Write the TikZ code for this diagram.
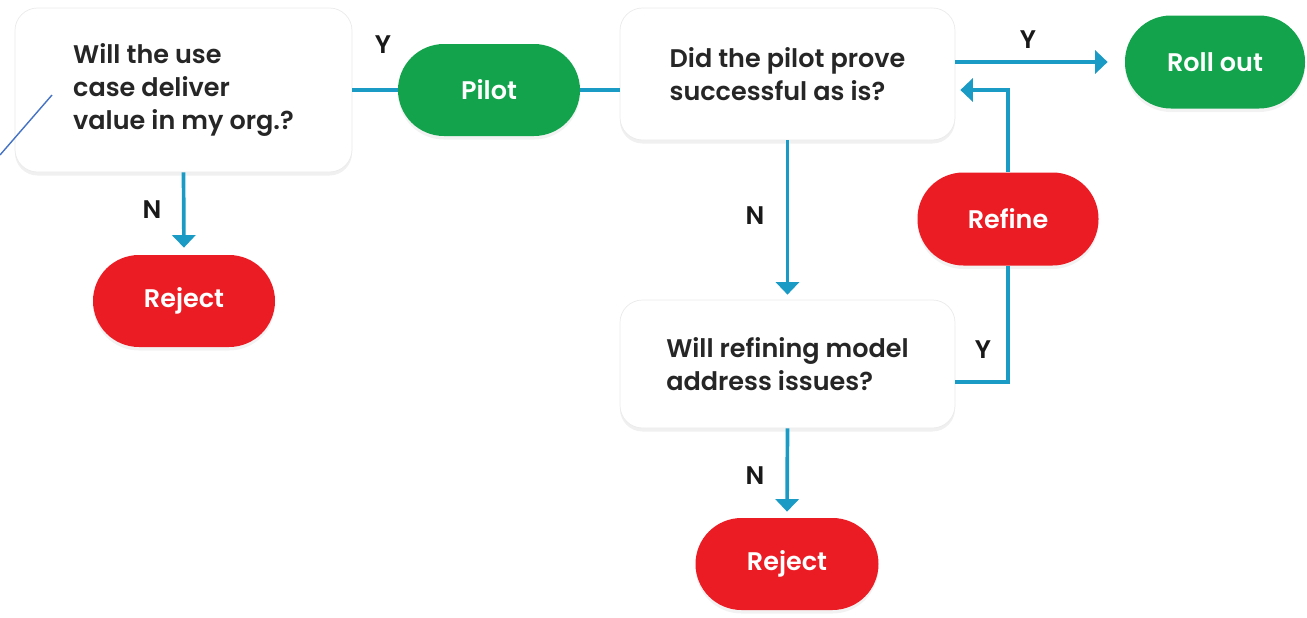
\documentclass[tikz,border=0pt]{standalone}
\usepackage{fontspec}
\setmainfont{Poppins}[BoldFont={Poppins SemiBold}]
\usetikzlibrary{arrows.meta, shadows}

\definecolor{flowteal}{RGB}{26,155,198}
\definecolor{okgreen}{RGB}{18,163,76}
\definecolor{nored}{RGB}{236,28,36}
\definecolor{notecol}{RGB}{68,114,196}

\begin{document}
\begin{tikzpicture}[
    font=\bfseries\fontsize{14.5}{19}\selectfont,
    question/.style={draw=black!8, fill=white, rounded corners=0.45cm, align=left,
        text=black!85, drop shadow={opacity=0.12, shadow xshift=0pt, shadow yshift=-2pt}},
    stadium/.style={rounded corners=0.92cm, text=white, minimum width=3.64cm, minimum height=1.84cm,
        drop shadow={opacity=0.1, shadow xshift=0pt, shadow yshift=-2pt}},
    goodend/.style={stadium, fill=okgreen},
    badend/.style={stadium, fill=nored},
    flow/.style={draw=flowteal, line width=2.1pt},
    flowarrow/.style={flow, -{Triangle[width=0.46cm, length=0.25cm]}},
    lbl/.style={text=black!90}
]
    \useasboundingbox (0,0) rectangle (26.14,12.34);

    % Questions
    \node[question, minimum width=6.74cm, minimum height=3.28cm] (use) at (3.67,10.54)
        {Will the use\\case deliver\\value in my org.?};
    \node[question, minimum width=6.7cm, minimum height=2.64cm] (proved) at (15.75,10.86)
        {Did the pilot prove\\successful as is?};
    \node[question, minimum width=6.7cm, minimum height=2.56cm] (refining) at (15.75,5.06)
        {Will refining model\\address issues?};

    % Outcomes
    \node[goodend] (pilot) at (9.78,10.54) {Pilot};
    \node[goodend, minimum width=3.6cm, minimum height=1.86cm] (rollout) at (24.3,11.1) {Roll out};
    \node[badend, minimum width=3.62cm, minimum height=1.86cm] (refine) at (20.16,7.96) {Refine};
    \node[badend] (reject1) at (3.68,6.32) {Reject};
    \node[badend, minimum width=3.66cm] (reject2) at (15.74,1.06) {Reject};

    % Yes paths
    \draw[flow] (use.east) -- (pilot.west);
    \draw[flow] (pilot.east) -- (pilot.east -| proved.west);
    \draw[flowarrow, shorten >=0.34cm] (proved.east |- rollout.west) -- (rollout.west);
    \draw[flowarrow, shorten >=0.1cm] (refine.north) |- ([yshift=-0.32cm]proved.east);
    \draw[flow] ([yshift=-0.36cm]refining.east) -| (refine.south);

    % No paths
    \draw[flowarrow, shorten >=0.14cm] (use.south) -- (reject1.north);
    \draw[flowarrow, shorten >=0.1cm] (proved.south) -- (refining.north);
    \draw[flowarrow, shorten >=0.12cm] (refining.south) -- (reject2.north);

    % Labels
    \node[lbl] (y1) at (7.66,11.44) {Y};
    \node[lbl] (y2) at (20.56,11.54) {Y};
    \node[lbl] (y3) at (19.66,5.34) {Y};
    \node[lbl] (n1) at (3.04,8.14) {N};
    \node[lbl] (n2) at (15.1,8.02) {N};
    \node[lbl] (n3) at (15.1,2.82) {N};

    % Note line
    \coordinate (noteend) at (0,9.24);
    \draw[notecol, line width=0.8pt] (noteend) -- (1.04,10.44);
\end{tikzpicture}
\end{document}
